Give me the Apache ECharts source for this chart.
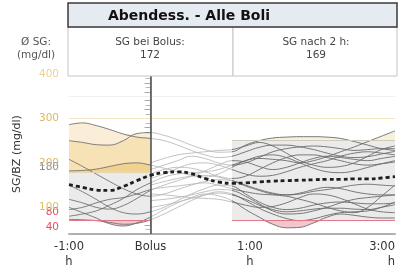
<!DOCTYPE html>
<html>
<head>
<meta charset="utf-8">
<script src="https://cdn.jsdelivr.net/npm/echarts@6/dist/echarts.min.js"></script>
<style>
html, body { margin: 0; padding: 0; background: #fff; }
#chart { width: 398px; height: 275px; }
</style>
</head>
<body>
<div id="chart"></div>
<script>
// Zeit in Minuten relativ zum Bolus
const times = [-60, -50, -40, -30, -20, -10, 0, 10, 20, 30, 40, 50, 60, 70, 80, 90, 100, 110, 120, 130, 140, 150, 160, 170, 180];

// einzelne Tage (SG mg/dl)
const day01 = [286, 290, 284, 275, 265, 258, 255, 250, 240, 228, 218, 212, 215, 225, 235, 240, 240, 236, 230, 222, 215, 212, 214, 220, 226];
const day02 = [250, 246, 241, 240, 250, 266, 268, 262, 252, 240, 230, 224, 225, 240, 250, 256, 258, 259, 259, 258, 255, 248, 240, 232, 228];
const day03 = [182, 183, 186, 192, 198, 200, 195, 188, 180, 172, 168, 175, 190, 205, 210, 208, 205, 200, 205, 214, 225, 236, 248, 260, 272];
const day04 = [208, 192, 175, 158, 142, 130, 125, 130, 140, 150, 158, 162, 160, 150, 140, 132, 128, 130, 136, 140, 145, 150, 152, 150, 148];
const day05 = [80, 85, 92, 105, 120, 140, 155, 168, 175, 178, 180, 185, 195, 205, 215, 218, 212, 200, 188, 180, 178, 182, 190, 198, 205];
const day06 = [150, 135, 118, 100, 88, 85, 90, 100, 115, 130, 142, 150, 148, 130, 112, 100, 95, 98, 105, 110, 112, 110, 108, 108, 110];
const day07 = [73, 72, 70, 66, 62, 64, 72, 85, 100, 115, 128, 135, 130, 115, 98, 85, 75, 70, 74, 82, 88, 90, 92, 100, 112];
const day08 = [100, 88, 76, 63, 58, 65, 78, 95, 110, 122, 130, 126, 115, 95, 78, 62, 54, 55, 65, 78, 85, 82, 78, 76, 76];
const day09 = [118, 110, 100, 96, 104, 120, 138, 150, 160, 170, 182, 195, 205, 202, 192, 185, 190, 200, 210, 215, 212, 208, 205, 210, 215];
const day10 = [95, 100, 110, 118, 122, 130, 140, 145, 148, 152, 155, 150, 142, 135, 130, 128, 125, 118, 110, 100, 92, 88, 100, 125, 150];
const day11 = [null, null, null, null, null, null, 200, 210, 218, 222, 225, 228, 230, 238, 246, 238, 222, 205, 195, 190, 192, 200, 215, 230, 238];
const day12 = [null, null, null, null, null, null, 185, 195, 205, 215, 210, 200, 195, 200, 212, 225, 232, 236, 238, 236, 232, 228, 230, 232, 232];
const day13 = [null, null, null, null, null, null, 165, 175, 188, 198, 200, 195, 185, 175, 170, 172, 180, 190, 198, 205, 215, 222, 225, 222, 218];
const day14 = [null, null, null, null, null, null, 150, 158, 165, 170, 172, 168, 160, 148, 138, 130, 128, 132, 140, 145, 142, 135, 130, 128, 128];
const day15 = [null, null, null, null, null, null, 130, 128, 125, 122, 120, 118, 112, 105, 100, 102, 110, 122, 130, 128, 120, 108, 96, 90, 88];
const day16 = [null, null, null, null, null, null, 115, 118, 122, 128, 135, 140, 138, 125, 108, 92, 85, 86, 92, 100, 110, 118, 122, 125, 128];
const day17 = [null, null, null, null, null, null, 175, 185, 190, 188, 180, 170, 165, 170, 185, 200, 212, 218, 218, 212, 205, 198, 195, 198, 202];
const day18 = [null, null, null, null, null, null, 100, 105, 112, 120, 128, 132, 128, 118, 105, 95, 90, 92, 96, 98, 98, 96, 95, 100, 106];
const dayCurves = [day01, day02, day03, day04, day05, day06, day07, day08, day09, day10, day11, day12, day13, day14, day15, day16, day17, day18];

// Mittelwert (gestrichelt)
const meanSG = [151, 145, 139, 138, 147, 160, 172, 178, 180, 176, 165, 157, 154, 155, 157, 159, 160, 161, 162, 163, 163, 164, 164, 166, 169];

// Bereiche vor dem Bolus
const preTimes = [-60, -50, -40, -30, -20, -10, 0];
const preHighTop = [286, 290, 284, 275, 265, 266, 268];
const preHighMid = [250, 246, 241, 240, 250, 258, 255];
const preHighLow = [182, 183, 186, 192, 198, 200, 195];
const preLowBottom = [70, 70, 70, 63, 58, 64, 70];

// Bereiche 1-3 h nach dem Bolus
const postTimes = [60, 70, 80, 90, 100, 110, 120, 130, 140, 150, 160, 170, 180];
const postHighTop = [250, 250, 250, 256, 258, 259, 259, 258, 255, 250, 250, 260, 272];
const postLowBottom = [70, 70, 70, 62, 54, 55, 65, 70, 70, 70, 70, 70, 70];

// Achsen
const xTickValues = [-60, 0, 60, 120, 180];
const xTickLabels = ['-1:00\nh', 'Bolus', '{s|1:00}\n{s|h}', '', '3:00\nh'];
const yTickLabels = [40, 80, 100, 180, 200, 300, 400];
const yLabelColors = { 40: '#e2505f', 80: '#e2505f', 100: '#e3c165', 180: '#8a8a8a', 200: '#dcb760', 300: '#dcb760', 400: '#ecd28e' };

const chart = echarts.init(document.getElementById('chart'));
const font = 'DejaVu Sans';

function pairs(xs, ys) {
	return xs.map((t, i) => [t, ys[i]]).filter((p) => p[1] != null);
}

function band(xs, ys, color, origin) {
	return {
		type: 'line',
		data: pairs(xs, ys),
		symbol: 'none',
		silent: true,
		smooth: 0.4,
		z: 1,
		lineStyle: { width: 0 },
		areaStyle: { color: color, origin: origin, opacity: 1 },
	};
}

function seg(x1, y1, x2, y2, color, width) {
	return [
		{ coord: [x1, y1], lineStyle: { color: color, width: width || 1, type: 'solid' } },
		{ coord: [x2, y2] },
	];
}

const series = [];

// Hintergrund: graue Zielbereiche + Linien
series.push({
	type: 'line',
	data: [],
	z: 0,
	silent: true,
	markArea: {
		silent: true,
		itemStyle: { color: '#ebebeb' },
		data: [
			[{ coord: [-60, 70] }, { coord: [0, 180] }],
			[{ coord: [60, 70] }, { coord: [180, 250] }],
		],
	},
	markLine: {
		silent: true,
		symbol: 'none',
		label: { show: false },
		data: [
			seg(-60, 350, 180, 350, '#f0f0f0'),
			seg(-60, 300, 180, 300, '#f3e5c3'),
			seg(60, 250, 180, 250, '#cfcbbb'),
			seg(-60, 180, 0, 180, '#e6d6ae'),
		],
	},
});

series.push(band(preTimes, preHighTop, '#faeed8', 180));
series.push(band(preTimes, preHighMid, '#f6e2b4', 180));
series.push(band(preTimes, preHighLow, '#f1d292', 180));
series.push(band(postTimes, postHighTop, '#f6f1da', 250));
series.push(band(preTimes, preLowBottom, '#f3c6cd', 70));
series.push(band(postTimes, postLowBottom, '#f3c6cd', 70));

// rote Grenzlinien bei 70
series.push({
	type: 'line',
	data: [],
	z: 2,
	silent: true,
	markLine: {
		silent: true,
		symbol: 'none',
		label: { show: false },
		data: [seg(-60, 70, 0, 70, '#e07a89'), seg(60, 70, 180, 70, '#e07a89')],
	},
});

const curveIdx = [];
dayCurves.forEach((d) => {
	curveIdx.push(series.length);
	series.push({
		type: 'line',
		data: pairs(times, d),
		symbol: 'none',
		smooth: 0.4,
		silent: true,
		z: 3,
		lineStyle: { width: 0.9 },
	});
});

series.push({
	type: 'line',
	data: pairs(times, meanSG),
	symbol: 'none',
	smooth: 0.4,
	silent: true,
	z: 5,
	lineStyle: { color: '#1e1e1e', width: 2.8, type: [4, 3] },
	markLine: {
		silent: true,
		symbol: 'none',
		label: { show: false },
		data: [seg(0, 40, 0, 400, '#555', 1.6)],
	},
});

// Beschriftungen, die im Original etwas nach oben versetzt stehen
const yLabelLift = { 40: 14, 80: 8, 180: 10 };

chart.setOption({
	animation: false,
	grid: { left: 69, right: 2, top: 74, bottom: 41 },
	visualMap: {
		type: 'piecewise',
		show: false,
		dimension: 0,
		seriesIndex: curveIdx,
		pieces: [
			{ lt: 0, color: '#707070' },
			{ gte: 0, lt: 60, color: '#bababa' },
			{ gte: 60, color: '#6a6a6a' },
		],
	},
	xAxis: {
		type: 'value',
		min: -60,
		max: 180,
		interval: 60,
		splitLine: { show: false },
		axisTick: { show: false },
		axisLine: { lineStyle: { color: '#b0b0b0', width: 2 } },
		axisLabel: {
			margin: 6,
			color: '#333',
			fontFamily: font,
			fontSize: 11.5,
			lineHeight: 15,
			alignMaxLabel: 'right',
			formatter: (v) => xTickLabels[xTickValues.indexOf(v)] || '',
			rich: {
				s: { padding: [0, 0, 0, 36], color: '#333', fontFamily: font, fontSize: 11.5, lineHeight: 15 },
			},
		},
	},
	yAxis: {
		type: 'value',
		min: 40,
		max: 400,
		interval: 20,
		name: 'SG/BZ (mg/dl)',
		nameLocation: 'middle',
		nameGap: 46,
		nameTextStyle: { color: '#333', fontFamily: font, fontSize: 11 },
		splitLine: { show: false },
		axisLine: { show: true, lineStyle: { color: '#9a9a9a' } },
		axisTick: { show: true, length: 6, lineStyle: { color: '#aaa' } },
		minorTick: { show: true, splitNumber: 2, length: 5, lineStyle: { color: '#bbb' } },
		axisLabel: {
			margin: 10,
			fontFamily: font,
			fontSize: 10.5,
			formatter: (v) => {
				if (yTickLabels.indexOf(v) < 0) return '';
				return yLabelLift[v] ? '{u' + v + '|' + v + '}' : String(v);
			},
			color: (v) => yLabelColors[v] || '#888',
			rich: {
				u40: { padding: [0, 0, yLabelLift[40], 0], color: yLabelColors[40], fontFamily: font, fontSize: 10.5 },
				u80: { padding: [0, 0, yLabelLift[80], 0], color: yLabelColors[80], fontFamily: font, fontSize: 10.5 },
				u180: { padding: [0, 0, yLabelLift[180], 0], color: yLabelColors[180], fontFamily: font, fontSize: 10.5 },
			},
		},
	},
	series: series,
	graphic: [
		{ type: 'rect', z: 100, shape: { x: 68, y: 27, width: 165, height: 49 }, style: { fill: '#fff', stroke: '#c4c4c4', lineWidth: 1 } },
		{ type: 'rect', z: 100, shape: { x: 233, y: 27, width: 164, height: 49 }, style: { fill: '#fff', stroke: '#c4c4c4', lineWidth: 1 } },
		{ type: 'rect', z: 101, shape: { x: 68, y: 3, width: 329, height: 24 }, style: { fill: '#e6ebf2', stroke: '#3a3a3a', lineWidth: 1.5 } },
		{ type: 'text', z: 102, x: 189, y: 16, style: { text: 'Abendess. - Alle Boli', font: 'bold 14px "DejaVu Sans"', fill: '#111', align: 'center', verticalAlign: 'middle' } },
		{ type: 'text', z: 102, x: 150, y: 49, style: { text: 'SG bei Bolus:\n172', font: '10.5px "DejaVu Sans"', lineHeight: 13, fill: '#444', align: 'center', verticalAlign: 'middle' } },
		{ type: 'text', z: 102, x: 316, y: 49, style: { text: 'SG nach 2 h:\n169', font: '10.5px "DejaVu Sans"', lineHeight: 13, fill: '#444', align: 'center', verticalAlign: 'middle' } },
		{ type: 'text', z: 102, x: 36, y: 49, style: { text: 'Ø SG:\n(mg/dl)', font: '10.5px "DejaVu Sans"', lineHeight: 13, fill: '#555', align: 'center', verticalAlign: 'middle' } },
	],
});
</script>
</body>
</html>
